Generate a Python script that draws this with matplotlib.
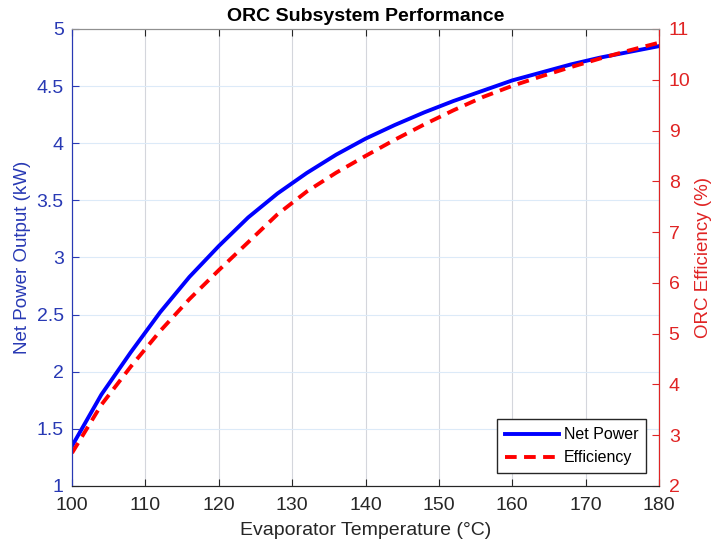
import matplotlib

matplotlib.use("Agg")
import matplotlib.pyplot as plt

plt.rcParams["font.family"] = ["Liberation Sans", "DejaVu Sans"]

temp_c = [100, 104, 108, 112, 116, 120, 124, 128, 132, 136, 140,
          144, 148, 152, 156, 160, 164, 168, 172, 176, 180]
net_power_kw = [1.35, 1.80, 2.17, 2.52, 2.83, 3.10, 3.35, 3.56, 3.74, 3.90, 4.04,
                4.16, 4.27, 4.37, 4.46, 4.55, 4.62, 4.69, 4.75, 4.80, 4.85]
efficiency_pct = [2.65, 3.60, 4.35, 5.05, 5.68, 6.25, 6.80, 7.35, 7.80, 8.17, 8.50,
                  8.82, 9.12, 9.40, 9.66, 9.88, 10.07, 10.25, 10.42, 10.58, 10.73]

x_ticks = list(range(100, 181, 10))
left_ticks = [1, 1.5, 2, 2.5, 3, 3.5, 4, 4.5, 5]
left_labels = ["1", "1.5", "2", "2.5", "3", "3.5", "4", "4.5", "5"]
right_ticks = list(range(2, 12))

BLUE = "#2839b4"
RED = "#e02424"
FS = 14

fig = plt.figure(figsize=(7.16, 5.46), dpi=100)
ax = fig.add_axes([0.1006, 0.1099, 0.8198, 0.8370])
ax2 = ax.twinx()

l1, = ax.plot(temp_c, net_power_kw, color="#0000ff", lw=2.8, label="Net Power")
l2, = ax2.plot(temp_c, efficiency_pct, color="#ff0000", lw=2.8, ls=(0, (3.0, 1.9)), label="Efficiency")

ax.set_xlim(100, 180)
ax.set_ylim(1, 5)
ax2.set_ylim(2, 11)
ax.set_xticks(x_ticks)
ax.set_yticks(left_ticks)
ax.set_yticklabels(left_labels)
ax2.set_yticks(right_ticks)

ax.xaxis.grid(True, color="#d4d6dc", lw=0.8)
ax.yaxis.grid(True, color="#dceaf8", lw=0.8)
ax.set_axisbelow(True)

ax.tick_params(axis="x", direction="in", top=True, labelsize=FS, colors="#262626", length=5, pad=8)
ax.tick_params(axis="y", direction="in", labelsize=FS, colors=BLUE, length=5, pad=6)
ax2.tick_params(axis="y", direction="in", labelsize=FS, colors=RED, length=5, pad=7)

for a in (ax, ax2):
    a.spines["bottom"].set_color("#262626")
    a.spines["top"].set_color("#909090")
    a.spines["left"].set_color(BLUE)
ax2.spines["right"].set_color(RED)

ax.set_xlabel("Evaporator Temperature (°C)", fontsize=FS, color="#262626", labelpad=6)
ax.set_ylabel("Net Power Output (kW)", fontsize=13.5, color=BLUE, labelpad=4)
ax2.set_ylabel("ORC Efficiency (%)", fontsize=13.5, color=RED, labelpad=3)
ax.set_title("ORC Subsystem Performance", fontsize=FS, fontweight="bold", pad=6)

leg = ax2.legend([l1, l2], ["Net Power", "Efficiency"], loc="lower right",
                 fontsize=11.5, fancybox=False, framealpha=1, edgecolor="#262626",
                 borderaxespad=0.8, handlelength=3.4, handletextpad=0.3, borderpad=0.5)
leg.get_frame().set_linewidth(1.0)

fig.savefig("out.png", dpi=100)
